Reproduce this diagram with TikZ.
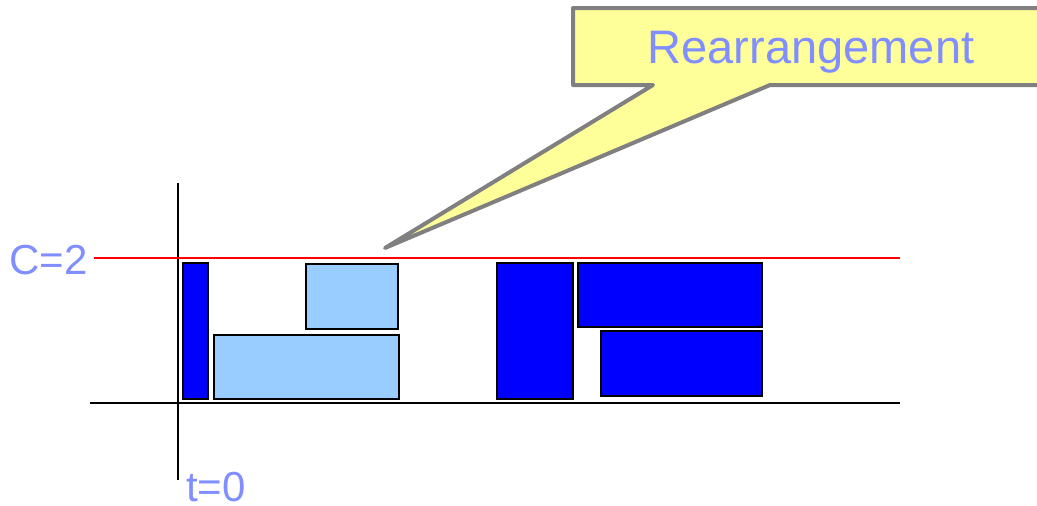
\documentclass[tikz,border=0pt]{standalone}
\usepackage{fontspec}
\setmainfont{Liberation Sans}
\definecolor{lbltxt}{RGB}{128,142,255}
\definecolor{lightfill}{RGB}{153,204,255}
\definecolor{darkfill}{RGB}{0,0,255}
\definecolor{callfill}{RGB}{255,255,153}
\definecolor{callline}{RGB}{128,128,128}
\begin{document}
\begin{tikzpicture}[x=1pt,y=-1pt,
  lbl/.style={text=lbltxt,inner sep=0pt,font=\fontsize{42}{48}\selectfont},
  biglbl/.style={text=lbltxt,inner sep=0pt,font=\fontsize{47}{54}\selectfont},
  axisline/.style={black,line width=1.5pt},
  lightjob/.style={draw=black,fill=lightfill,line width=1.5pt},
  darkjob/.style={draw=black,fill=darkfill,line width=1.5pt}]
\useasboundingbox (0,0) rectangle (1037,506);
% axes
\draw[axisline] (178,183) -- (178,480);
\draw[axisline] (90,403) -- (900,403);
% capacity line
\draw[red,line width=1.5pt] (94,258) -- (900,258);
% left schedule
\draw[darkjob] (183,263) rectangle (208,399);
\draw[lightjob] (214,335) rectangle (399,399);
\draw[lightjob] (306,264) rectangle (398,329);
% right schedule
\draw[darkjob] (497,263) rectangle (573,399);
\draw[darkjob] (578,263) rectangle (762,327);
\draw[darkjob] (601,331) rectangle (762,396);
% labels
\node[lbl,anchor=base east] (cap) at (88,274) {C=2};
\node[lbl,anchor=base west] (t0) at (186,501) {t=0};
% callout
\draw[callline,fill=callfill,line width=4pt,line join=round]
  (573,8) -- (1045,8) -- (1045,85) -- (770,85) -- (385,248) -- (653,85) -- (573,85) -- cycle;
\node[biglbl,anchor=base] (rearr) at (811,63) {Rearrangement};
\end{tikzpicture}
\end{document}
